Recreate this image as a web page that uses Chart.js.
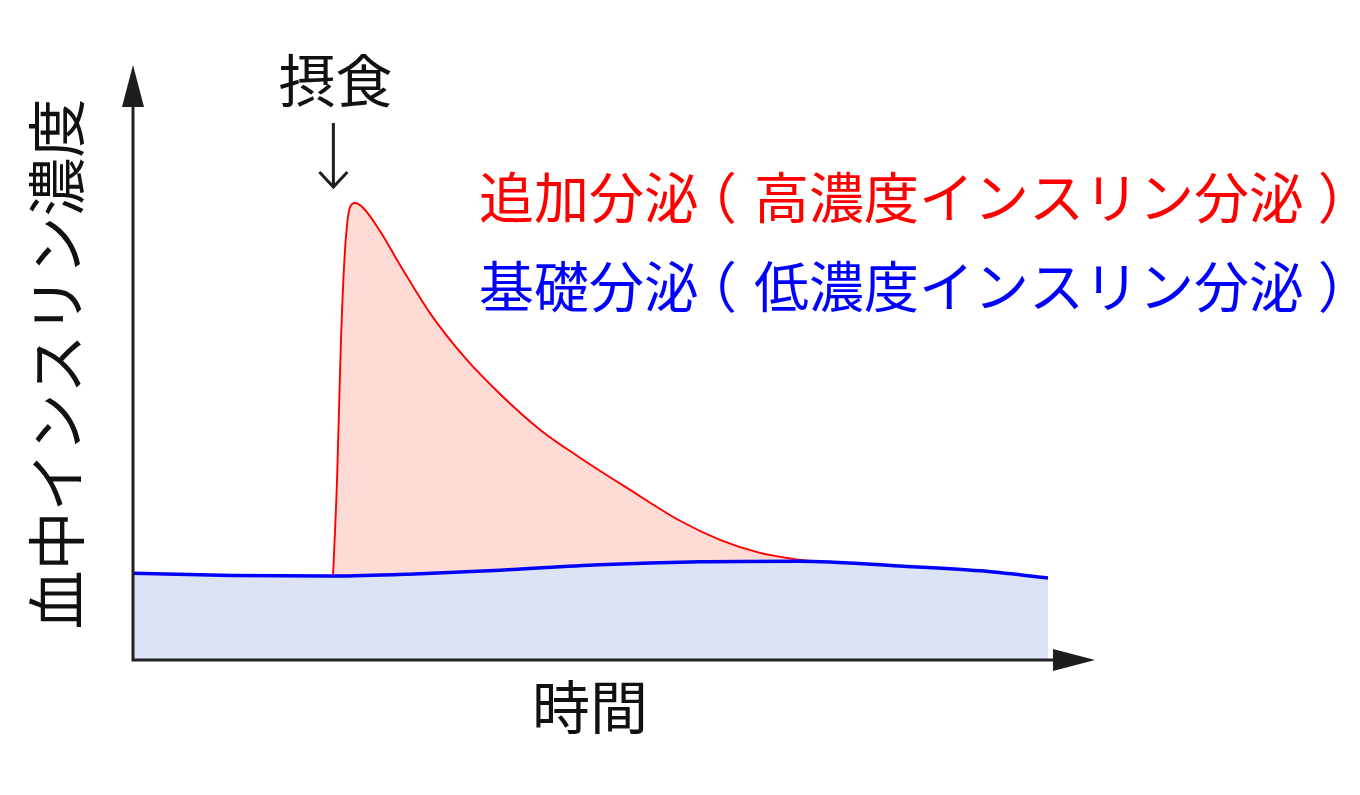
<!DOCTYPE html>
<html lang="ja">
<head>
<meta charset="utf-8">
<script src="https://cdn.jsdelivr.net/npm/chart.js@4/dist/chart.umd.min.js"></script>
<style>
  html, body { margin: 0; padding: 0; background: #fff; }
  #wrap { width: 1360px; height: 795px; }
</style>
</head>
<body>
<div id="wrap"><canvas id="chart"></canvas></div>
<script>
// basal secretion (low-concentration insulin)
const basalTime = [0, 10.9, 21.9, 31.4, 40.1, 51.0, 62.0, 72.9, 83.8, 92.6, 100];
const basalLevel = [14.6, 14.2, 14.1, 14.5, 15.1, 16.0, 16.5, 16.6, 15.8, 15.0, 13.8];

// additional secretion after a meal (high-concentration insulin)
const bolusTime = [21.86, 22.3, 22.73, 23.17, 23.72, 24.26, 25.14, 26.99, 29.18, 32.46,
  36.28, 40.11, 44.48, 48.85, 54.32, 59.78, 64.15, 68.52, 72.13, 75.08];
const bolusLevel = [14.1, 30.3, 53.8, 68.9, 76.1, 76.8, 76.0, 72.1, 66.4, 58.3,
  50.8, 44.7, 38.7, 34.0, 28.6, 23.4, 20.2, 18.0, 17.0, 16.5];

const mealTime = 21.9;

const labels = {
  meal: "摂食",
  bolus: "追加分泌（高濃度インスリン分泌）",
  basal: "基礎分泌（低濃度インスリン分泌）",
  x: "時間",
  y: "血中インスリン濃度",
};

const FONT = '"Noto Sans CJK JP", "Noto Sans CJK SC", sans-serif';

const toPoints = (xs, ys) => xs.map((x, i) => ({ x, y: ys[i] }));

// draw text on a fixed em grid, with the brackets pulled toward the middle of their cell
function drawGridText(ctx, text, x, y) {
  const cell = ctx.measureText("分").width;
  ctx.textAlign = "left";
  [...text].forEach((ch, i) => {
    let cx = x + i * cell;
    if (ch === "（") cx -= cell * 0.31;
    if (ch === "）") cx += cell * 0.25;
    ctx.fillText(ch, cx, y);
  });
}

const decorations = {
  id: "decorations",
  afterDatasetsDraw(chart) {
    const { ctx, chartArea } = chart;
    const { left, right, top, bottom } = chartArea;
    ctx.save();

    // axes
    ctx.strokeStyle = "#222";
    ctx.fillStyle = "#1e1e1e";
    ctx.lineWidth = 3;
    ctx.beginPath();
    ctx.moveTo(left, bottom + 1.5);
    ctx.lineTo(left, top + 40);
    ctx.moveTo(left - 1.5, bottom);
    ctx.lineTo(right + 7, bottom);
    ctx.stroke();

    // arrow heads
    ctx.beginPath();
    ctx.moveTo(left, top);
    ctx.lineTo(left + 11, top + 42);
    ctx.lineTo(left - 11, top + 42);
    ctx.closePath();
    ctx.fill();
    ctx.beginPath();
    ctx.moveTo(right + 47, bottom);
    ctx.lineTo(right + 5, bottom - 11);
    ctx.lineTo(right + 5, bottom + 11);
    ctx.closePath();
    ctx.fill();

    // meal marker
    const mx = chart.scales.x.getPixelForValue(mealTime);
    ctx.strokeStyle = "#1e1e1e";
    ctx.lineWidth = 3;
    ctx.beginPath();
    ctx.moveTo(mx, 123);
    ctx.lineTo(mx, 186);
    ctx.moveTo(mx - 14, 172);
    ctx.lineTo(mx, 187);
    ctx.lineTo(mx + 14, 172);
    ctx.stroke();

    ctx.fillStyle = "#111";
    ctx.textAlign = "center";
    ctx.textBaseline = "middle";
    ctx.font = `57px ${FONT}`;
    ctx.fillText(labels.meal, mx + 2, 80);

    // axis titles
    ctx.font = `58px ${FONT}`;
    ctx.fillText(labels.x, 590, 707);
    ctx.save();
    ctx.translate(57, 364);
    ctx.rotate(-Math.PI / 2);
    ctx.font = `59px ${FONT}`;
    ctx.fillText(labels.y, 0, 0);
    ctx.restore();

    // series labels
    ctx.font = `55px ${FONT}`;
    ctx.fillStyle = "#ff0000";
    drawGridText(ctx, labels.bolus, 479, 197);
    ctx.fillStyle = "#0000ff";
    drawGridText(ctx, labels.basal, 479, 286);

    ctx.restore();
  },
};

new Chart(document.getElementById("chart"), {
  type: "line",
  data: {
    datasets: [
      {
        label: labels.basal,
        data: toPoints(basalTime, basalLevel),
        borderColor: "#0000ff",
        backgroundColor: "rgb(220, 227, 245)",
        borderWidth: 3.5,
        fill: "origin",
        cubicInterpolationMode: "monotone",
        pointRadius: 0,
        order: 1,
      },
      {
        label: labels.bolus,
        data: toPoints(bolusTime, bolusLevel),
        borderColor: "#ff0000",
        backgroundColor: "rgb(255, 219, 213)",
        borderWidth: 1.9,
        fill: 0,
        cubicInterpolationMode: "monotone",
        pointRadius: 0,
        order: 2,
      },
    ],
  },
  options: {
    responsive: true,
    maintainAspectRatio: false,
    animation: false,
    layout: {
      padding: { top: 65, right: 312, bottom: 135, left: 133 },
    },
    plugins: {
      legend: { display: false },
      tooltip: { enabled: false },
    },
    scales: {
      x: { type: "linear", min: 0, max: 100, display: false },
      y: { min: 0, max: 100, display: false },
    },
  },
  plugins: [decorations],
});
</script>
</body>
</html>
